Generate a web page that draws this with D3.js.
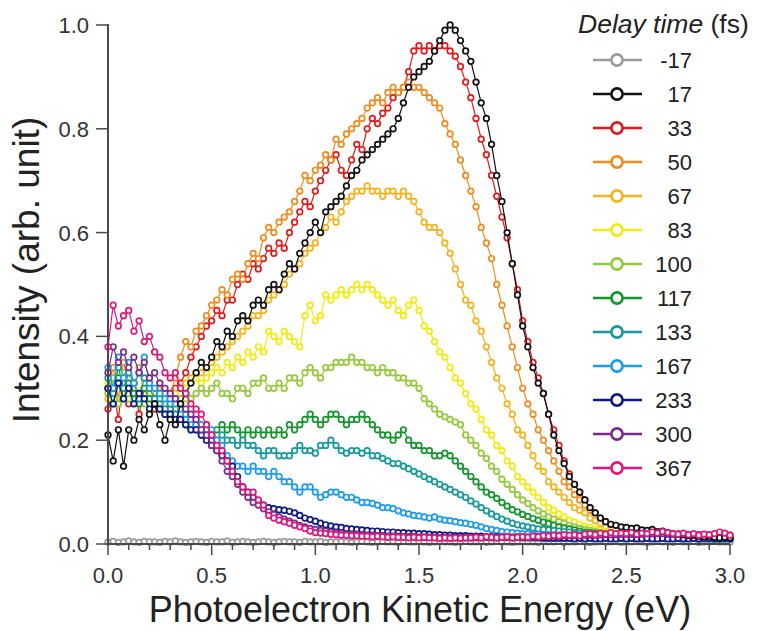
<!DOCTYPE html>
<html>
<head>
<meta charset="utf-8">
<script src="https://cdn.jsdelivr.net/npm/d3@7"></script>
<style>
  body { margin: 0; background: #fff; }
  svg { display: block; font-family: "Liberation Sans", Arial, sans-serif; }
</style>
</head>
<body>
<svg id="chart" width="763" height="631"></svg>
<script>
// energy grid (eV), one point every 0.025 eV from 0 to 3.0
var energies = d3.range(0, 121).map(function(i) { return +(i * 0.025).toFixed(3); });

var delayLabels = ['-17', '17', '33', '50', '67', '83', '100', '117', '133', '167', '233', '300', '367'];
var delayColors = ['#9a9a9a', '#111111', '#e01a1a', '#f08a1c', '#f5b21c', '#f2ea0c', '#95c83a',
                   '#13952b', '#15999a', '#1b9bec', '#0c1a86', '#7b2b8b', '#e0177a'];

var sM17 = [
  0.004,0.005,0.003,0.004,0.006,0.004,0.003,0.005,0.004,0.004,
  0.003,0.005,0.004,0.006,0.004,0.003,0.004,0.005,0.004,0.003,
  0.005,0.004,0.004,0.006,0.003,0.004,0.005,0.004,0.003,0.004,
  0.005,0.004,0.003,0.004,0.005,0.004,0.004,0.003,0.005,0.004,
  0.004,0.005,0.003,0.004,0.004,0.005,0.004,0.003,0.004,0.005,
  0.004,0.003,0.004,0.005,0.004,0.004,0.003,0.005,0.004,0.004,
  0.005,0.004,0.003,0.004,0.005,0.004,0.004,0.003,0.004,0.005,
  0.004,0.004,0.005,0.003,0.004,0.005,0.004,0.004,0.003,0.004,
  0.005,0.004,0.004,0.003,0.005,0.004,0.004,0.005,0.003,0.004,
  0.004,0.005,0.004,0.003,0.004,0.005,0.004,0.004,0.005,0.003,
  0.004,0.004,0.005,0.004,0.003,0.004,0.005,0.004,0.004,0.003,
  0.005,0.004,0.004,0.005,0.003,0.004,0.004,0.005,0.004,0.004,
  0.004];
var s17 = [
  0.21,0.16,0.22,0.15,0.22,0.20,0.24,0.22,0.25,0.27,
  0.23,0.20,0.24,0.23,0.27,0.29,0.31,0.33,0.35,0.34,
  0.36,0.39,0.38,0.41,0.40,0.43,0.44,0.43,0.46,0.47,
  0.46,0.49,0.50,0.49,0.52,0.54,0.53,0.56,0.58,0.60,
  0.62,0.60,0.64,0.65,0.66,0.67,0.69,0.71,0.72,0.74,
  0.75,0.76,0.77,0.78,0.79,0.80,0.82,0.85,0.88,0.90,
  0.91,0.92,0.93,0.95,0.97,0.99,1.00,0.99,0.97,0.95,
  0.93,0.89,0.85,0.82,0.77,0.71,0.66,0.60,0.54,0.48,
  0.42,0.38,0.34,0.31,0.29,0.25,0.21,0.18,0.155,0.13,
  0.115,0.10,0.085,0.07,0.06,0.05,0.043,0.038,0.036,0.033,
  0.032,0.030,0.031,0.027,0.026,0.028,0.024,0.025,0.022,0.020,
  0.019,0.018,0.016,0.017,0.015,0.014,0.015,0.013,0.012,0.013,
  0.012];
var s33 = [
  0.26,0.30,0.24,0.33,0.27,0.31,0.25,0.30,0.28,0.26,
  0.29,0.26,0.28,0.30,0.31,0.33,0.36,0.38,0.40,0.42,
  0.43,0.45,0.44,0.47,0.47,0.50,0.52,0.51,0.54,0.53,
  0.55,0.57,0.56,0.58,0.57,0.60,0.62,0.64,0.66,0.65,
  0.68,0.70,0.72,0.74,0.75,0.72,0.71,0.74,0.77,0.76,
  0.80,0.82,0.81,0.83,0.84,0.86,0.87,0.88,0.91,0.95,
  0.96,0.95,0.96,0.95,0.96,0.96,0.95,0.94,0.92,0.89,
  0.86,0.82,0.78,0.75,0.71,0.67,0.63,0.59,0.54,0.49,
  0.43,0.39,0.35,0.32,0.29,0.25,0.22,0.19,0.16,0.135,
  0.115,0.10,0.085,0.07,0.06,0.05,0.043,0.038,0.034,0.03,
  0.028,0.027,0.025,0.024,0.022,0.023,0.020,0.019,0.018,0.017,
  0.016,0.015,0.016,0.014,0.013,0.014,0.012,0.013,0.012,0.011,
  0.012];
var s50 = [
  0.30,0.34,0.28,0.35,0.31,0.29,0.34,0.30,0.32,0.28,
  0.31,0.27,0.29,0.32,0.36,0.39,0.38,0.41,0.42,0.44,
  0.46,0.47,0.49,0.48,0.51,0.52,0.51,0.54,0.56,0.55,
  0.59,0.61,0.60,0.62,0.63,0.64,0.66,0.68,0.71,0.70,
  0.72,0.73,0.75,0.74,0.78,0.77,0.79,0.80,0.81,0.82,
  0.84,0.85,0.86,0.85,0.87,0.88,0.87,0.88,0.89,0.88,
  0.88,0.87,0.86,0.85,0.84,0.81,0.79,0.77,0.74,0.71,
  0.68,0.65,0.61,0.58,0.55,0.50,0.46,0.42,0.38,0.34,
  0.30,0.27,0.25,0.22,0.20,0.18,0.16,0.14,0.12,0.11,
  0.095,0.085,0.075,0.065,0.055,0.048,0.04,0.035,0.032,0.028,
  0.026,0.024,0.022,0.021,0.02,0.019,0.018,0.017,0.016,0.016,
  0.015,0.014,0.015,0.013,0.012,0.013,0.012,0.011,0.012,0.011,
  0.011];
var s67 = [
  0.28,0.32,0.27,0.33,0.29,0.31,0.27,0.30,0.28,0.27,
  0.29,0.26,0.28,0.29,0.30,0.31,0.32,0.33,0.33,0.34,
  0.35,0.36,0.37,0.38,0.39,0.40,0.41,0.42,0.44,0.44,
  0.45,0.47,0.48,0.49,0.50,0.52,0.53,0.54,0.56,0.57,
  0.58,0.60,0.61,0.63,0.62,0.64,0.66,0.67,0.68,0.68,
  0.69,0.68,0.68,0.67,0.68,0.68,0.67,0.68,0.67,0.66,
  0.64,0.62,0.61,0.61,0.60,0.58,0.56,0.53,0.50,0.47,
  0.46,0.43,0.41,0.38,0.35,0.32,0.30,0.27,0.25,0.22,
  0.21,0.19,0.17,0.15,0.14,0.12,0.11,0.10,0.09,0.08,
  0.07,0.065,0.06,0.05,0.045,0.04,0.033,0.03,0.028,0.026,
  0.024,0.022,0.021,0.02,0.019,0.018,0.018,0.017,0.016,0.015,
  0.015,0.014,0.013,0.014,0.012,0.013,0.012,0.011,0.012,0.011,
  0.011];
var s83 = [
  0.31,0.28,0.33,0.29,0.32,0.30,0.28,0.31,0.29,0.30,
  0.28,0.29,0.27,0.28,0.29,0.30,0.31,0.32,0.31,0.32,
  0.33,0.34,0.33,0.35,0.34,0.36,0.35,0.37,0.36,0.38,
  0.37,0.41,0.40,0.39,0.41,0.40,0.39,0.38,0.44,0.46,
  0.43,0.44,0.48,0.47,0.48,0.49,0.48,0.49,0.50,0.49,
  0.50,0.49,0.48,0.47,0.46,0.47,0.45,0.44,0.46,0.47,
  0.45,0.42,0.41,0.39,0.37,0.36,0.34,0.32,0.31,0.29,
  0.27,0.26,0.24,0.22,0.21,0.19,0.18,0.16,0.15,0.13,
  0.12,0.11,0.10,0.09,0.08,0.07,0.065,0.058,0.052,0.046,
  0.042,0.038,0.034,0.032,0.028,0.026,0.024,0.022,0.02,0.019,
  0.018,0.017,0.016,0.016,0.015,0.014,0.015,0.013,0.013,0.012,
  0.012,0.011,0.012,0.011,0.01,0.011,0.01,0.011,0.01,0.011,
  0.01];
var s100 = [
  0.29,0.32,0.27,0.30,0.28,0.31,0.29,0.27,0.30,0.28,
  0.29,0.27,0.28,0.27,0.28,0.28,0.28,0.29,0.30,0.29,
  0.30,0.31,0.29,0.29,0.28,0.30,0.30,0.29,0.31,0.31,
  0.32,0.30,0.30,0.31,0.30,0.32,0.32,0.31,0.33,0.34,
  0.33,0.32,0.34,0.34,0.35,0.35,0.35,0.36,0.35,0.35,
  0.34,0.34,0.33,0.34,0.33,0.33,0.32,0.32,0.31,0.31,
  0.30,0.28,0.27,0.26,0.25,0.245,0.24,0.235,0.23,0.21,
  0.20,0.19,0.175,0.165,0.15,0.14,0.125,0.115,0.105,0.095,
  0.085,0.078,0.07,0.064,0.058,0.052,0.048,0.043,0.04,0.036,
  0.033,0.03,0.028,0.026,0.024,0.022,0.021,0.02,0.019,0.018,
  0.017,0.016,0.016,0.015,0.014,0.014,0.013,0.013,0.012,0.012,
  0.012,0.011,0.011,0.012,0.01,0.011,0.01,0.011,0.01,0.01,
  0.01];
var s117 = [
  0.30,0.27,0.32,0.28,0.31,0.29,0.27,0.30,0.28,0.27,
  0.26,0.25,0.26,0.25,0.24,0.23,0.24,0.23,0.22,0.23,
  0.21,0.22,0.23,0.22,0.23,0.22,0.21,0.22,0.21,0.22,
  0.21,0.22,0.21,0.22,0.21,0.23,0.22,0.23,0.24,0.25,
  0.24,0.23,0.24,0.25,0.25,0.24,0.23,0.24,0.24,0.25,
  0.24,0.23,0.22,0.21,0.21,0.20,0.21,0.22,0.20,0.19,
  0.19,0.18,0.18,0.17,0.17,0.175,0.17,0.16,0.15,0.14,
  0.13,0.12,0.11,0.10,0.095,0.088,0.08,0.073,0.066,0.062,
  0.057,0.053,0.049,0.046,0.042,0.039,0.036,0.033,0.031,0.029,
  0.027,0.025,0.023,0.022,0.021,0.02,0.019,0.018,0.017,0.016,
  0.016,0.015,0.015,0.014,0.014,0.013,0.013,0.012,0.012,0.012,
  0.011,0.011,0.011,0.012,0.01,0.011,0.01,0.01,0.01,0.01,
  0.01];
var s133 = [
  0.32,0.29,0.34,0.30,0.33,0.31,0.28,0.32,0.30,0.28,
  0.27,0.26,0.27,0.25,0.24,0.23,0.22,0.22,0.21,0.21,
  0.21,0.20,0.21,0.20,0.20,0.19,0.20,0.19,0.19,0.18,
  0.17,0.18,0.18,0.17,0.17,0.17,0.18,0.19,0.18,0.18,
  0.175,0.19,0.19,0.20,0.19,0.18,0.175,0.18,0.18,0.175,
  0.18,0.17,0.17,0.165,0.16,0.155,0.155,0.15,0.145,0.14,
  0.135,0.13,0.125,0.12,0.115,0.11,0.105,0.10,0.095,0.09,
  0.083,0.077,0.07,0.064,0.058,0.053,0.048,0.044,0.04,0.037,
  0.035,0.033,0.031,0.029,0.028,0.027,0.026,0.025,0.024,0.023,
  0.022,0.021,0.02,0.019,0.019,0.018,0.017,0.017,0.016,0.016,
  0.015,0.015,0.014,0.014,0.013,0.013,0.013,0.012,0.012,0.012,
  0.011,0.011,0.011,0.012,0.01,0.011,0.01,0.01,0.01,0.01,
  0.01];
var s167 = [
  0.34,0.30,0.36,0.32,0.35,0.31,0.33,0.36,0.31,0.30,
  0.29,0.28,0.28,0.27,0.26,0.25,0.24,0.23,0.23,0.22,
  0.22,0.20,0.19,0.17,0.16,0.15,0.15,0.14,0.15,0.14,
  0.14,0.13,0.14,0.13,0.12,0.12,0.11,0.10,0.11,0.11,
  0.10,0.09,0.095,0.10,0.10,0.095,0.09,0.09,0.085,0.08,
  0.08,0.078,0.075,0.07,0.07,0.068,0.064,0.06,0.058,0.055,
  0.054,0.052,0.05,0.052,0.048,0.046,0.045,0.043,0.041,0.04,
  0.038,0.036,0.033,0.03,0.028,0.026,0.024,0.023,0.022,0.021,
  0.02,0.02,0.019,0.019,0.018,0.018,0.017,0.017,0.016,0.016,
  0.015,0.015,0.015,0.014,0.014,0.014,0.013,0.013,0.013,0.013,
  0.012,0.012,0.012,0.012,0.011,0.011,0.011,0.011,0.011,0.011,
  0.011,0.01,0.011,0.012,0.01,0.011,0.01,0.01,0.01,0.01,
  0.01];
var s233 = [
  0.30,0.27,0.31,0.28,0.30,0.27,0.29,0.28,0.26,0.27,
  0.26,0.25,0.25,0.24,0.24,0.23,0.22,0.22,0.21,0.20,
  0.19,0.18,0.17,0.16,0.15,0.13,0.11,0.10,0.09,0.08,
  0.075,0.07,0.068,0.066,0.065,0.063,0.06,0.055,0.05,0.047,
  0.044,0.04,0.037,0.035,0.033,0.032,0.03,0.029,0.028,0.027,
  0.026,0.025,0.025,0.024,0.023,0.023,0.022,0.022,0.021,0.021,
  0.02,0.02,0.019,0.018,0.018,0.017,0.017,0.016,0.016,0.016,
  0.015,0.015,0.015,0.014,0.014,0.014,0.013,0.013,0.013,0.013,
  0.012,0.012,0.012,0.012,0.011,0.011,0.011,0.011,0.011,0.011,
  0.01,0.011,0.01,0.011,0.01,0.01,0.011,0.01,0.01,0.011,
  0.01,0.011,0.01,0.01,0.011,0.01,0.01,0.011,0.01,0.01,
  0.011,0.01,0.01,0.011,0.01,0.01,0.011,0.01,0.01,0.011,
  0.01];
var s300 = [
  0.33,0.38,0.35,0.37,0.34,0.36,0.33,0.35,0.32,0.33,
  0.31,0.30,0.29,0.28,0.27,0.26,0.25,0.24,0.22,0.21,
  0.19,0.18,0.16,0.14,0.13,0.115,0.10,0.09,0.08,0.075,
  0.068,0.062,0.057,0.052,0.048,0.044,0.04,0.036,0.033,0.03,
  0.028,0.026,0.025,0.023,0.022,0.021,0.02,0.019,0.019,0.018,
  0.017,0.017,0.016,0.016,0.015,0.015,0.015,0.014,0.014,0.014,
  0.013,0.013,0.013,0.013,0.012,0.012,0.012,0.012,0.012,0.012,
  0.012,0.012,0.012,0.013,0.012,0.012,0.013,0.013,0.012,0.013,
  0.013,0.013,0.014,0.014,0.014,0.015,0.015,0.015,0.016,0.016,
  0.016,0.016,0.017,0.017,0.017,0.018,0.018,0.018,0.018,0.019,
  0.019,0.019,0.019,0.019,0.02,0.02,0.02,0.02,0.019,0.019,
  0.019,0.019,0.018,0.018,0.018,0.018,0.017,0.018,0.019,0.018,
  0.017];
var s367 = [
  0.38,0.46,0.42,0.44,0.45,0.41,0.43,0.39,0.40,0.37,
  0.36,0.33,0.32,0.33,0.30,0.29,0.27,0.26,0.25,0.23,
  0.21,0.19,0.18,0.16,0.14,0.12,0.11,0.10,0.10,0.085,
  0.075,0.055,0.05,0.046,0.043,0.04,0.036,0.033,0.03,0.025,
  0.022,0.021,0.02,0.019,0.018,0.017,0.017,0.016,0.016,0.015,
  0.015,0.014,0.015,0.014,0.013,0.014,0.013,0.013,0.012,0.013,
  0.012,0.013,0.012,0.012,0.011,0.012,0.011,0.012,0.011,0.012,
  0.012,0.013,0.012,0.014,0.013,0.012,0.013,0.014,0.012,0.013,
  0.014,0.013,0.015,0.014,0.016,0.015,0.017,0.016,0.018,0.017,
  0.018,0.016,0.019,0.02,0.018,0.021,0.019,0.022,0.02,0.021,
  0.02,0.022,0.019,0.021,0.02,0.023,0.021,0.024,0.022,0.02,
  0.019,0.021,0.018,0.02,0.017,0.019,0.018,0.02,0.023,0.021,
  0.017];

var seriesValues = [sM17, s17, s33, s50, s67, s83, s100, s117, s133, s167, s233, s300, s367];
// order the traces are painted in (later ones on top)
var drawOrder = [0, 2, 3, 4, 5, 6, 7, 8, 9, 10, 11, 1, 12];

var series = delayLabels.map(function(d, i) {
    return {label: d, color: delayColors[i],
            points: energies.map(function(e, j) { return {x: e, y: seriesValues[i][j]}; })};
});

var svg = d3.select('#chart');
var x = d3.scaleLinear().domain([0, 3]).range([108, 730]);
var y = d3.scaleLinear().domain([0, 1]).range([544, 25]);
var axisColor = '#4a4a4a';

// traces
var line = d3.line().x(function(d) { return x(d.x); }).y(function(d) { return y(d.y); });
var traces = svg.append('g').selectAll('g')
    .data(drawOrder.map(function(i) { return series[i]; }))
    .enter().append('g');

traces.append('path')
    .attr('d', function(d) { return line(d.points); })
    .attr('fill', 'none')
    .attr('stroke', function(d) { return d.color; })
    .attr('stroke-width', 1.2);

traces.selectAll('circle')
    .data(function(d) { return d.points.map(function(p) { return {p: p, c: d.color}; }); })
    .enter().append('circle')
    .attr('cx', function(d) { return x(d.p.x); })
    .attr('cy', function(d) { return y(d.p.y); })
    .attr('r', 2.8)
    .attr('fill', '#fff')
    .attr('stroke', function(d) { return d.c; })
    .attr('stroke-width', 1.7);

// x axis: labelled every 0.5, minor ticks every 0.1
var xAxis = svg.append('g').attr('transform', 'translate(0,544)');
xAxis.append('line').attr('x1', 108).attr('x2', 730)
    .attr('stroke', axisColor).attr('stroke-width', 2);
xAxis.selectAll('.minor')
    .data(d3.range(0, 31).map(function(i) { return i / 10; }))
    .enter().append('line')
    .attr('x1', function(d) { return x(d); }).attr('x2', function(d) { return x(d); })
    .attr('y1', 0).attr('y2', function(d, i) { return i % 5 === 0 ? 11 : 6; })
    .attr('stroke', axisColor).attr('stroke-width', 1.5);
xAxis.selectAll('text')
    .data(x.ticks(6))
    .enter().append('text')
    .attr('x', function(d) { return x(d); })
    .attr('y', 39)
    .attr('text-anchor', 'middle')
    .attr('font-size', 22).attr('fill', '#333')
    .text(d3.format('.1f'));

// y axis
var yAxis = svg.append('g').attr('transform', 'translate(108,0)');
yAxis.append('line').attr('y1', 24).attr('y2', 545)
    .attr('stroke', axisColor).attr('stroke-width', 2);
yAxis.selectAll('.tick')
    .data(y.ticks(5))
    .enter().append('line')
    .attr('x1', -12).attr('x2', 0)
    .attr('y1', function(d) { return y(d); }).attr('y2', function(d) { return y(d); })
    .attr('stroke', axisColor).attr('stroke-width', 1.5);
yAxis.selectAll('text')
    .data(y.ticks(5))
    .enter().append('text')
    .attr('x', -19)
    .attr('y', function(d) { return y(d) + 8; })
    .attr('text-anchor', 'end')
    .attr('font-size', 22).attr('fill', '#333')
    .text(d3.format('.1f'));

// axis titles
svg.append('text')
    .attr('x', 420).attr('y', 622)
    .attr('text-anchor', 'middle')
    .attr('font-size', 36).attr('fill', '#222')
    .text('Photoelectron Kinetic Energy (eV)');
svg.append('text')
    .attr('transform', 'translate(39,270) rotate(-90)')
    .attr('text-anchor', 'middle')
    .attr('font-size', 37).attr('fill', '#222')
    .text('Intensity (arb. unit)');

// legend
var legend = svg.append('g');
var title = legend.append('text')
    .attr('x', 578).attr('y', 33)
    .attr('font-size', 26.5).attr('fill', '#222');
title.append('tspan').attr('font-style', 'italic').text('Delay time');
title.append('tspan').text(' (fs)');

var rows = legend.selectAll('.row')
    .data(series)
    .enter().append('g')
    .attr('transform', function(d, i) { return 'translate(0,' + (60 + i * 34) + ')'; });
rows.append('line')
    .attr('x1', 593).attr('x2', 642)
    .attr('stroke', function(d) { return d.color; })
    .attr('stroke-width', 2.6);
rows.append('circle')
    .attr('cx', 617).attr('r', 5.6)
    .attr('fill', '#fff')
    .attr('stroke', function(d) { return d.color; })
    .attr('stroke-width', 2.6);
rows.append('text')
    .attr('x', 692).attr('y', 8)
    .attr('text-anchor', 'end')
    .attr('font-size', 22).attr('fill', '#222')
    .text(function(d) { return d.label; });
</script>
</body>
</html>
